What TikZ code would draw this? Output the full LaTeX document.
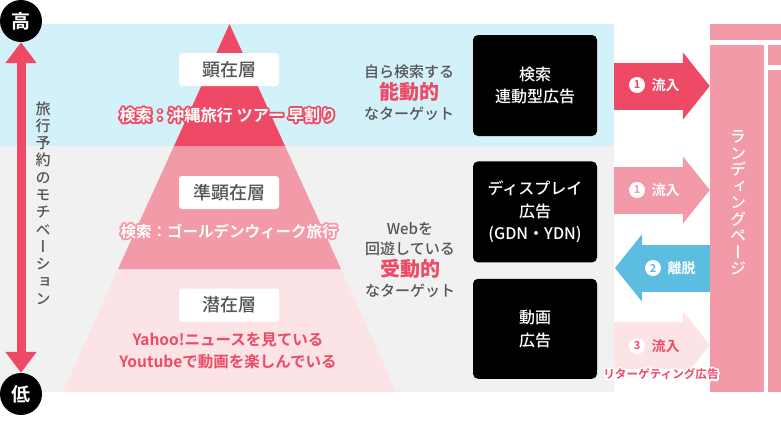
\documentclass[tikz,border=0pt]{standalone}
\usepackage{fontspec}
\setmainfont{Noto Sans CJK JP}[BoldFont={Noto Sans CJK JP Medium}]
\newfontfamily\heavyfont{Noto Sans CJK JP Bold}
\newfontfamily\vertfont[RawFeature={+vert}]{Noto Sans CJK JP Medium}
\usetikzlibrary{arrows.meta,positioning}
\definecolor{hotpink}{HTML}{EE4A66}
\definecolor{midpink}{HTML}{F39AA8}
\definecolor{palepink}{HTML}{FBE3E6}
\definecolor{bandblue}{HTML}{D3F1F9}
\definecolor{bandgray}{HTML}{F1F1F1}
\definecolor{skyblue}{HTML}{5CBDE0}
\definecolor{inkgray}{HTML}{555555}
\newcommand{\sized}[2]{\fontsize{#1}{#2}\selectfont}
\newcommand{\halo}[2]{\leavevmode\rlap{\special{pdf:code q 1 j 1 J 3.8 w #1 RG 1 Tr}#2\special{pdf:code Q}}#2}
\tikzstyle{Level}   = [fill=white, rounded corners=3pt, minimum width=100pt, minimum height=33pt, inner sep=0pt, text=inkgray, font=\sized{18}{22}\bfseries]
\tikzstyle{Media}   = [fill=black, rounded corners=5pt, minimum width=124pt, inner sep=0pt, align=center, text=white, font=\sized{16}{22.5}\bfseries]
\tikzstyle{Pole}    = [circle, fill=black, minimum size=42pt, inner sep=0pt, text=white, font=\sized{19}{22}\heavyfont]
\tikzstyle{Target}  = [align=center, text=inkgray, font=\sized{15}{20}\bfseries]
\tikzstyle{Query}   = [text=white, font=\sized{15.5}{20}\heavyfont]
\tikzstyle{Page}    = [fill=midpink, inner sep=0pt]
\tikzstyle{Stack}   = [align=center, inner sep=0pt, font=\vertfont\sized{15}{17.3}]
\tikzstyle{Flow}    = [line width=47pt, -{Triangle[length=27pt,width=66pt]}]
\tikzstyle{FlowNum} = [circle, fill=white, minimum size=16pt, inner sep=0pt, font=\sized{11}{12}\heavyfont]
\tikzstyle{FlowTxt} = [font=\sized{14}{18}\heavyfont]
\begin{document}
\begin{tikzpicture}[x=1pt,y=-1pt]
    \useasboundingbox (0,0) rectangle (781,426);
    % bands
    \fill[bandblue] (0,24)  rectangle (614,146);
    \fill[bandgray] (0,146) rectangle (614,392);
    % pyramid
    \fill[palepink] (118,269) -- (341,269) -- (396,392) -- (63,392) -- cycle;
    \fill[midpink]  (174,146) -- (285,146) -- (341,269) -- (118,269) -- cycle;
    \fill[hotpink]  (229.5,24) -- (285,146) -- (174,146) -- cycle;
    \node[Level] (top)    at (229,69.5)  {顕在層};
    \node[Level] (middle) at (229,192.5) {準顕在層};
    \node[Level] (bottom) at (229,305)   {潜在層};
    \node[Query, font=\sized{16.2}{20}\heavyfont] (queryA) at (228,115) {\halo{.933 .29 .4}{検索：沖縄旅行 ツアー 早割り}};
    \node[Query] (queryB) at (229,231) {\halo{.953 .604 .659}{検索：ゴールデンウィーク旅行}};
    \node[align=center, text=hotpink, font=\sized{15.5}{22}\heavyfont] (usage) at (228,351)
        {Yahoo!ニュースを見ている\\Youtubeで動画を楽しんでいる};
    % motivation axis
    \node[Pole] (high) at (21,21)  {高};
    \node[Pole] (low)  at (21,394) {低};
    \draw[hotpink, line width=9pt, {Triangle[length=21pt,width=30pt]}-{Triangle[length=21pt,width=30pt]}] (high) -- (low);
    \node[Stack, text=inkgray] (motivation) at (43,203)
        {旅\\行\\予\\約\\の\\モ\\チ\\ベ\\ー\\シ\\ョ\\ン};
    % targets
    \node[Target] (active)  at (409,92.5)
        {自ら検索する\\[2pt]{\color{hotpink}\sized{20}{20}\heavyfont 能動的}\\なターゲット};
    \node[Target] (passive) at (410,260.5)
        {Webを\\回遊している\\[2pt]{\color{hotpink}\sized{20}{20}\heavyfont 受動的}\\なターゲット};
    % media
    \node[Media, minimum height=101pt] (search)  at (535,85.5)       {検索\\連動型広告};
    \node[Media, minimum height=101pt] (display) [below=25pt of search]  {ディスプレイ\\広告\\(GDN・YDN)};
    \node[Media, minimum height=100pt] (movie)   [below=16pt of display] {動画\\広告};
    % landing page
    \fill[midpink] (710,24) rectangle (781,40);
    \node[Page, minimum width=54pt, minimum height=347pt] (landing) at (737,218.5) {};
    \fill[midpink] (768,45) rectangle (781,65);
    \fill[midpink] (768,70) rectangle (781,392);
    \node[Stack, text=white, font=\vertfont\sized{16}{16.5}] (landingtext) at (738,203)
        {ラ\\ン\\デ\\ィ\\ン\\グ\\ペ\\ー\\ジ};
    % flows
    \coordinate (flowA) at (614,86);
    \coordinate (flowB) at (614,190);
    \coordinate (flowC) at (615,268);
    \coordinate (flowD) at (614,345);
    \draw[Flow, hotpink]  (flowA) -- (flowA -| landing.west);
    \draw[Flow, midpink]  (flowB) -- (flowB -| landing.west);
    \draw[Flow, skyblue]  (flowC -| landing.west) -- (flowC);
    \draw[Flow, palepink] (flowD) -- (flowD -| landing.west);
    \node[FlowNum, text=hotpink]  (numA) at (637,85)  {1};
    \node[FlowTxt, text=white]    (txtA) [right=3pt of numA] {流入};
    \node[FlowNum, text=midpink]  (numB) at (637,190) {1};
    \node[FlowTxt, text=white]    (txtB) [right=3pt of numB] {流入};
    \node[FlowNum, text=skyblue]  (numC) at (653,268) {2};
    \node[FlowTxt, text=white]    (txtC) [right=3pt of numC] {離脱};
    \node[FlowNum, text=hotpink]  (numD) at (637,346) {3};
    \node[FlowTxt, text=hotpink]  (txtD) [right=3pt of numD] {流入};
    \node[text=hotpink, font=\sized{11.6}{15}\heavyfont] (retarget) at (661,374) {\halo{1 1 1}{リターゲティング広告}};
\end{tikzpicture}
\end{document}
